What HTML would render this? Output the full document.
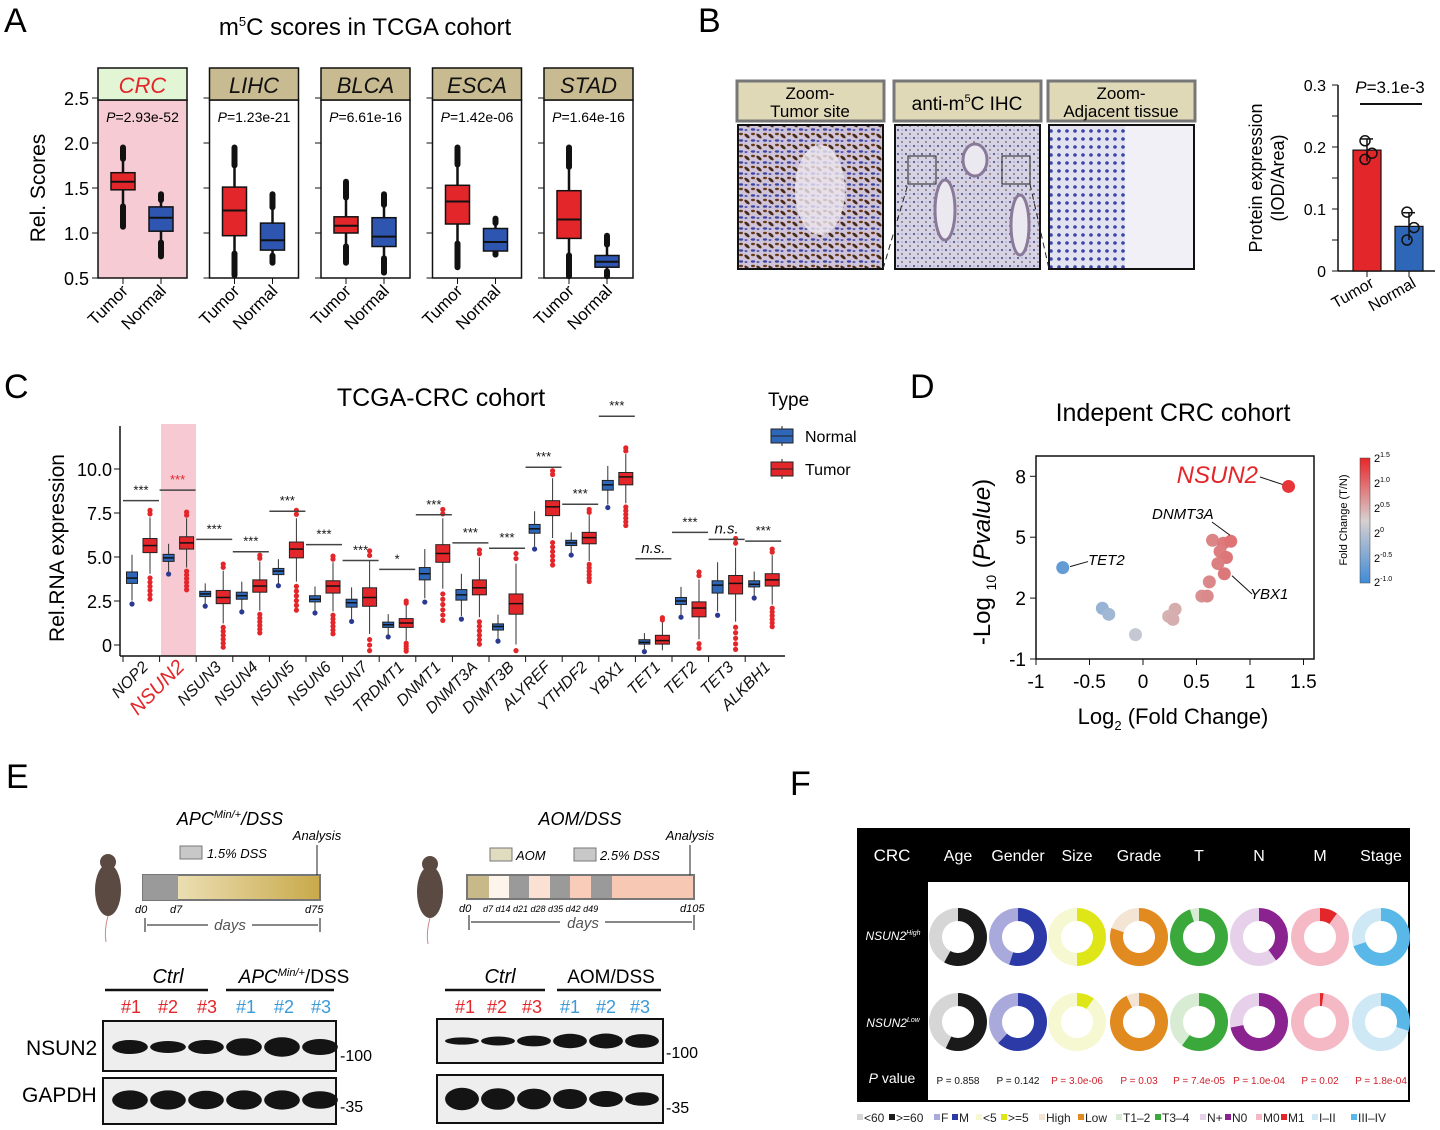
<!DOCTYPE html>
<html><head><meta charset="utf-8"><style>
html,body{margin:0;padding:0;background:#fff}
svg{display:block;font-family:"Liberation Sans","Noto Sans CJK SC",sans-serif}
</style></head><body>
<svg id="fig" width="1440" height="1130" viewBox="0 0 1440 1130" xmlns="http://www.w3.org/2000/svg">
<defs>
<linearGradient id="gApc" x1="0" x2="1"><stop offset="0" stop-color="#f3ebcc"/><stop offset="1" stop-color="#c9a94a"/></linearGradient>
<linearGradient id="gFc" x1="0" x2="0" y1="0" y2="1"><stop offset="0" stop-color="#e8262a"/><stop offset="0.5" stop-color="#d8d0d0"/><stop offset="1" stop-color="#3f8bd6"/></linearGradient>
<pattern id="tissueT" width="12" height="11" patternUnits="userSpaceOnUse"><rect width="12" height="11" fill="#cfc4d8"/><ellipse cx="3" cy="4" rx="3.2" ry="1.5" fill="#4a2a18" transform="rotate(40 3 4)"/><ellipse cx="9" cy="8.5" rx="2.2" ry="1.2" fill="#3d44a0"/><ellipse cx="9" cy="2" rx="2" ry="1.2" fill="#6a3a1a"/><ellipse cx="2" cy="9" rx="1.5" ry="1" fill="#5058b0"/></pattern>
<pattern id="tissueM" width="8" height="8" patternUnits="userSpaceOnUse"><rect width="8" height="8" fill="#d6d4e4"/><circle cx="2" cy="2" r="1.1" fill="#5a5a98"/><circle cx="6" cy="6" r="0.9" fill="#7a5a5a"/><circle cx="6" cy="2" r="0.6" fill="#8888b8"/></pattern>
<pattern id="tissueA" width="8" height="8" patternUnits="userSpaceOnUse"><rect width="8" height="8" fill="#e2e2f0"/><circle cx="3" cy="3" r="1.8" fill="#3b44a8"/></pattern>
</defs>

<text x="4" y="32" font-size="34">A</text>
<text x="698" y="32" font-size="34">B</text>
<text x="4" y="398" font-size="34">C</text>
<text x="910" y="398" font-size="34">D</text>
<text x="6" y="788" font-size="34">E</text>
<text x="790" y="795" font-size="34">F</text>

<text x="365" y="35" font-size="24" text-anchor="middle">m<tspan font-size="13" dy="-9">5</tspan><tspan dy="9">C scores in TCGA cohort</tspan></text>
<text x="45" y="188" font-size="21" text-anchor="middle" transform="rotate(-90 45 188)">Rel. Scores</text>
<g id="gA"></g>

<g>
<rect x="737" y="81" width="147" height="40" fill="#e0d9b8" stroke="#777" stroke-width="3"/>
<text x="810" y="99" font-size="17" text-anchor="middle">Zoom-</text><text x="810" y="117" font-size="17" text-anchor="middle">Tumor site</text>
<rect x="894" y="81" width="147" height="40" fill="#e0d9b8" stroke="#777" stroke-width="3"/>
<text x="967" y="110" font-size="19" text-anchor="middle">anti-m<tspan font-size="11" dy="-8">5</tspan><tspan dy="8">C IHC</tspan></text>
<rect x="1048" y="81" width="147" height="40" fill="#e0d9b8" stroke="#777" stroke-width="3"/>
<text x="1121" y="99" font-size="17" text-anchor="middle">Zoom-</text><text x="1121" y="117" font-size="17" text-anchor="middle">Adjacent tissue</text>
<rect x="738" y="125" width="145" height="144" fill="url(#tissueT)" stroke="#111" stroke-width="2"/>
<ellipse cx="820" cy="190" rx="25" ry="45" fill="#ece6ee" opacity="0.8"/>
<rect x="895" y="125" width="145" height="144" fill="url(#tissueM)" stroke="#111" stroke-width="2"/>
<ellipse cx="945" cy="210" rx="10" ry="30" fill="#ece8f0" stroke="#8a7a9a" stroke-width="3"/>
<ellipse cx="975" cy="160" rx="12" ry="16" fill="#ece8f0" stroke="#8a7a9a" stroke-width="3"/>
<ellipse cx="1020" cy="225" rx="9" ry="30" fill="#ece8f0" stroke="#8a7a9a" stroke-width="3"/>
<rect x="908" y="156" width="28" height="28" fill="none" stroke="#222" stroke-width="1"/>
<rect x="1002" y="156" width="28" height="28" fill="none" stroke="#222" stroke-width="1"/>
<rect x="1049" y="125" width="145" height="144" fill="url(#tissueA)" stroke="#111" stroke-width="2"/>
<rect x="1125" y="126" width="68" height="142" fill="#f0f0f6"/>
<line x1="883" y1="269" x2="908" y2="184" stroke="#222" stroke-dasharray="6 4"/>
<line x1="1030" y1="184" x2="1049" y2="269" stroke="#222" stroke-dasharray="6 4"/>
</g>
<text x="1262" y="178" font-size="18" text-anchor="middle" transform="rotate(-90 1262 178)">Protein expression</text>
<text x="1284" y="178" font-size="18" text-anchor="middle" transform="rotate(-90 1284 178)">(IOD/Area)</text>
<g id="gB"></g>

<text x="441" y="406" font-size="25" text-anchor="middle">TCGA-CRC cohort</text>
<text x="64" y="548" font-size="21" text-anchor="middle" transform="rotate(-90 64 548)">Rel.RNA expression</text>
<rect x="161" y="424" width="35" height="232" fill="#f6c9d3"/>
<g id="gC"></g>
<g>
<text x="768" y="406" font-size="19">Type</text>
<line x1="782" y1="426" x2="782" y2="446" stroke="#222"/><rect x="771" y="429" width="22" height="14" fill="#2e66b8" stroke="#222"/><line x1="771" y1="436" x2="793" y2="436" stroke="#222"/>
<text x="805" y="442" font-size="16">Normal</text>
<line x1="782" y1="459" x2="782" y2="479" stroke="#222"/><rect x="771" y="462" width="22" height="14" fill="#e3262a" stroke="#222"/><line x1="771" y1="469" x2="793" y2="469" stroke="#222"/>
<text x="805" y="475" font-size="16">Tumor</text>
</g>

<text x="1173" y="421" font-size="25" text-anchor="middle">Indepent CRC cohort</text>
<text x="990" y="562" font-size="24" text-anchor="middle" transform="rotate(-90 990 562)">-Log <tspan font-size="14" dy="6">10</tspan><tspan dy="-6"> (</tspan><tspan font-style="italic">Pvalue</tspan>)</text>
<text x="1173" y="724" font-size="22" text-anchor="middle">Log<tspan font-size="13" dy="6">2</tspan><tspan dy="-6"> (Fold Change)</tspan></text>
<g id="gD"></g>
<g>
<rect x="1360" y="458" width="10" height="125" fill="url(#gFc)" stroke="#444" stroke-width="0.5"/>
<text x="1347" y="520" font-size="11" text-anchor="middle" transform="rotate(-90 1347 520)">Fold Change (T/N)</text>
<text x="1374" y="462" font-size="11">2<tspan font-size="7" dy="-5">1.5</tspan></text>
<text x="1374" y="487" font-size="11">2<tspan font-size="7" dy="-5">1.0</tspan></text>
<text x="1374" y="512" font-size="11">2<tspan font-size="7" dy="-5">0.5</tspan></text>
<text x="1374" y="537" font-size="11">2<tspan font-size="7" dy="-5">0</tspan></text>
<text x="1374" y="562" font-size="11">2<tspan font-size="7" dy="-5">-0.5</tspan></text>
<text x="1374" y="586" font-size="11">2<tspan font-size="7" dy="-5">-1.0</tspan></text>
</g>

<g font-style="italic">
<text x="230" y="825" font-size="18" text-anchor="middle">APC<tspan font-size="11" dy="-7">Min/+</tspan><tspan dy="7">/DSS</tspan></text>
<text x="317" y="840" font-size="13" text-anchor="middle">Analysis</text>
<rect x="180" y="846" width="22" height="13" fill="#c8c8c8" stroke="#777"/><text x="207" y="858" font-size="13">1.5% DSS</text>
<g><ellipse cx="108" cy="890" rx="13" ry="26" fill="#5a4a42"/><circle cx="108" cy="862" r="8" fill="#5a4a42"/><path d="M108 916 Q104 930 106 942" stroke="#c88" fill="none"/></g>
<rect x="143" y="875" width="177" height="25" fill="url(#gApc)" stroke="#777" stroke-width="2"/>
<rect x="143" y="875" width="35" height="25" fill="#9a9a9a"/>
<line x1="317" y1="845" x2="317" y2="875" stroke="#222"/>
<text x="135" y="913" font-size="11">d0</text><text x="170" y="913" font-size="11">d7</text><text x="305" y="913" font-size="11">d75</text>
<line x1="145" y1="918" x2="145" y2="932" stroke="#111"/><line x1="320" y1="918" x2="320" y2="932" stroke="#111"/>
<line x1="147" y1="925" x2="208" y2="925" stroke="#111"/><line x1="252" y1="925" x2="318" y2="925" stroke="#111"/>
<text x="230" y="930" font-size="15" text-anchor="middle" fill="#555">days</text>

<text x="580" y="825" font-size="18" text-anchor="middle">AOM/DSS</text>
<text x="690" y="840" font-size="13" text-anchor="middle">Analysis</text>
<rect x="490" y="848" width="22" height="13" fill="#e0dcc0" stroke="#777"/><text x="516" y="860" font-size="13">AOM</text>
<rect x="574" y="848" width="22" height="13" fill="#c8c8c8" stroke="#777"/><text x="600" y="860" font-size="13">2.5% DSS</text>
<g><ellipse cx="430" cy="892" rx="13" ry="26" fill="#5a4a42"/><circle cx="430" cy="864" r="8" fill="#5a4a42"/><path d="M430 918 Q426 932 428 944" stroke="#c88" fill="none"/></g>
<rect x="467" y="875" width="227" height="24" fill="#f7c8b4" stroke="#777" stroke-width="2"/>
<rect x="468" y="876" width="21" height="22" fill="#c8b98a"/><rect x="489" y="876" width="20" height="22" fill="#fdf4ec"/>
<rect x="509" y="876" width="20" height="22" fill="#9a9a9a"/><rect x="529" y="876" width="21" height="22" fill="#fbe0d4"/>
<rect x="550" y="876" width="20" height="22" fill="#9a9a9a"/><rect x="570" y="876" width="21" height="22" fill="#f8ccb8"/>
<rect x="591" y="876" width="21" height="22" fill="#9a9a9a"/>
<line x1="690" y1="845" x2="690" y2="875" stroke="#222"/>
<text x="459" y="912" font-size="11">d0  </text><text x="483" y="912" font-size="9">d7  d14  d21  d28 d35 d42 d49</text><text x="680" y="912" font-size="11">d105</text>
<line x1="469" y1="915" x2="469" y2="930" stroke="#111"/><line x1="694" y1="915" x2="694" y2="930" stroke="#111"/>
<line x1="471" y1="922" x2="560" y2="922" stroke="#111"/><line x1="605" y1="922" x2="692" y2="922" stroke="#111"/>
<text x="583" y="928" font-size="15" text-anchor="middle" fill="#555">days</text>
</g>
<g>
<text x="168" y="983" font-size="20" font-style="italic" text-anchor="middle">Ctrl</text>
<text x="294" y="983" font-size="19" text-anchor="middle"><tspan font-style="italic">APC</tspan><tspan font-size="11" dy="-7" font-style="italic">Min/+</tspan><tspan dy="7">/DSS</tspan></text>
<line x1="105" y1="990" x2="208" y2="990" stroke="#111" stroke-width="2.5"/><line x1="226" y1="990" x2="334" y2="990" stroke="#111" stroke-width="2.5"/>
<text x="121" y="1013" font-size="18" fill="#e3262a">#1</text><text x="158" y="1013" font-size="18" fill="#e3262a">#2</text><text x="197" y="1013" font-size="18" fill="#e3262a">#3</text>
<text x="236" y="1013" font-size="18" fill="#3b9ad8">#1</text><text x="274" y="1013" font-size="18" fill="#3b9ad8">#2</text><text x="311" y="1013" font-size="18" fill="#3b9ad8">#3</text>
<text x="26" y="1055" font-size="21">NSUN2</text><text x="22" y="1102" font-size="21">GAPDH</text>
<rect x="103" y="1021" width="233" height="50" fill="#eee" stroke="#111" stroke-width="2"/>
<rect x="103" y="1078" width="233" height="46" fill="#eee" stroke="#111" stroke-width="2"/>
<text x="340" y="1061" font-size="16">-100</text><text x="340" y="1112" font-size="16">-35</text>
<text x="500" y="983" font-size="20" font-style="italic" text-anchor="middle">Ctrl</text>
<text x="611" y="983" font-size="19" text-anchor="middle">AOM/DSS</text>
<line x1="445" y1="990" x2="545" y2="990" stroke="#111" stroke-width="2.5"/><line x1="557" y1="990" x2="661" y2="990" stroke="#111" stroke-width="2.5"/>
<text x="455" y="1013" font-size="18" fill="#e3262a">#1</text><text x="487" y="1013" font-size="18" fill="#e3262a">#2</text><text x="522" y="1013" font-size="18" fill="#e3262a">#3</text>
<text x="560" y="1013" font-size="18" fill="#3b9ad8">#1</text><text x="596" y="1013" font-size="18" fill="#3b9ad8">#2</text><text x="630" y="1013" font-size="18" fill="#3b9ad8">#3</text>
<rect x="437" y="1019" width="226" height="44" fill="#eee" stroke="#111" stroke-width="2"/>
<rect x="437" y="1075" width="226" height="48" fill="#eee" stroke="#111" stroke-width="2"/>
<text x="666" y="1058" font-size="16">-100</text><text x="666" y="1113" font-size="16">-35</text>
<g id="gBands"></g>
</g>

<g>
<rect x="857" y="828" width="553" height="274" fill="#000"/>
<rect x="928" y="882" width="480" height="218" fill="#fff"/>
<text x="892" y="861" font-size="17" fill="#fff" text-anchor="middle">CRC</text>
<g id="gFhead" font-size="16" fill="#fff" text-anchor="middle"></g>
<text x="893" y="940" font-size="12" fill="#fff" text-anchor="middle" font-style="italic">NSUN2<tspan font-size="7" dy="-5">High</tspan></text>
<text x="893" y="1027" font-size="12" fill="#fff" text-anchor="middle" font-style="italic">NSUN2<tspan font-size="7" dy="-5">Low</tspan></text>
<text x="892" y="1083" font-size="14" fill="#fff" text-anchor="middle"><tspan font-style="italic">P</tspan> value</text>
<g id="gF"></g>
<g id="gFleg" font-size="12"></g>
</g>
</svg>
<script>
const NS='http://www.w3.org/2000/svg';
function mk(tag,attrs,parent){const e=document.createElementNS(NS,tag);for(const k in attrs)e.setAttribute(k,attrs[k]);parent.appendChild(e);return e;}

/* ---------- Panel A data ---------- */
const aCohorts=['CRC','LIHC','BLCA','ESCA','STAD'];
const aPvals=['2.93e-52','1.23e-21','6.61e-16','1.42e-06','1.64e-16'];
const aTumorMed=[1.57,1.25,1.08,1.35,1.15];
const aTumorQ1=[1.48,0.97,1.0,1.1,0.94];
const aTumorQ3=[1.67,1.51,1.18,1.53,1.47];
const aTumorLo=[1.07,0.53,0.67,0.62,0.52];
const aTumorHi=[1.95,1.95,1.57,1.95,1.95];
const aNormMed=[1.17,0.92,0.96,0.9,0.68];
const aNormQ1=[1.02,0.81,0.85,0.8,0.62];
const aNormQ3=[1.29,1.11,1.17,1.05,0.75];
const aNormLo=[0.74,0.67,0.56,0.76,0.52];
const aNormHi=[1.43,1.43,1.43,1.16,0.97];
const aTicks=[0.5,1.0,1.5,2.0,2.5];

const gA=document.getElementById('gA');
const ayA=v=>278-(v-0.5)*90;
aTicks.forEach(t=>{const l=mk('text',{x:89,y:ayA(t)+7,'font-size':18,'text-anchor':'end'},gA);l.textContent=t.toFixed(1);
 
 });
aCohorts.forEach((c,i)=>{
 const x0=98+i*111.5,w=89;
 const g=mk('g',{},gA);
 
 
 mk('rect',{x:x0,y:100,width:w,height:178,fill:i==0?'#f6cbd4':'#fff',stroke:'#111','stroke-width':1.5},g);
 mk('rect',{x:x0,y:68,width:w,height:32,fill:i==0?'#e2f5d4':'#c9bb91',stroke:'#111','stroke-width':1.5},g);
 const h=mk('text',{x:x0+w/2,y:93,'font-size':22,'font-style':'italic','text-anchor':'middle',fill:i==0?'#e3262a':'#111'},g);h.textContent=c;
 const p=mk('text',{x:x0+w/2,y:122,'font-size':14,'text-anchor':'middle'},g);p.innerHTML='<tspan font-style="italic">P</tspan>='+aPvals[i];
 aTicks.forEach(t=>mk('line',{x1:x0-6,x2:x0,y1:ayA(t),y2:ayA(t),stroke:'#111'},g));
 const sets=[[aTumorMed,aTumorQ1,aTumorQ3,aTumorLo,aTumorHi,'#e3262a',x0+25],[aNormMed,aNormQ1,aNormQ3,aNormLo,aNormHi,'#2e55b0',x0+63]];
 sets.forEach((s,j)=>{
  const cx=s[6],bw=24;
  const lo=s[3][i],hi=s[4][i],q1=s[1][i],q3=s[2][i];
  mk('line',{x1:cx,x2:cx,y1:ayA(hi),y2:ayA(lo),stroke:'#111','stroke-width':2.5},g);
  // outlier chains near whisker ends
  const wl=q1-(q1-lo)*0.45, wh=q3+(hi-q3)*0.55;
  mk('line',{x1:cx,x2:cx,y1:ayA(hi),y2:ayA(wh),stroke:'#111','stroke-width':6,'stroke-linecap':'round'},g);
  mk('line',{x1:cx,x2:cx,y1:ayA(wl),y2:ayA(lo),stroke:'#111','stroke-width':6,'stroke-linecap':'round'},g);
  mk('rect',{x:cx-bw/2,y:ayA(q3),width:bw,height:ayA(q1)-ayA(q3),fill:s[5],stroke:'#111','stroke-width':1.5},g);
  mk('line',{x1:cx-bw/2,x2:cx+bw/2,y1:ayA(s[0][i]),y2:ayA(s[0][i]),stroke:'#111','stroke-width':2},g);
  mk('line',{x1:cx,x2:cx,y1:278,y2:284,stroke:'#111'},g);
  const lbl=['Tumor','Normal'][j];
  const t=mk('text',{x:cx+6,y:292,'font-size':17,'text-anchor':'end',transform:`rotate(-45 ${cx+6} 292)`},g);t.textContent=lbl;
 });
});

/* ---------- Panel B data ---------- */
const bGroups=['Tumor','Normal'];
const bMeans=[0.195,0.072];
const bSD=[0.018,0.022];
const bPoints=[[0.21,0.19,0.18],[0.095,0.07,0.05]];
const bTicks=[0,0.1,0.2,0.3];
const gB=document.getElementById('gB');
const byB=v=>271-v*620;
mk('line',{x1:1338,x2:1338,y1:byB(0.3),y2:271,stroke:'#111','stroke-width':1.5},gB);
mk('line',{x1:1338,x2:1435,y1:271,y2:271,stroke:'#111','stroke-width':1.5},gB);
[0,0.05,0.1,0.15,0.2,0.25,0.3].forEach(t=>mk('line',{x1:1332,x2:1338,y1:byB(t),y2:byB(t),stroke:'#111'},gB));
bTicks.forEach(t=>{const l=mk('text',{x:1326,y:byB(t)+6,'font-size':16,'text-anchor':'end'},gB);l.textContent=t==0?'0':t.toString();
 
 });
bGroups.forEach((gname,i)=>{
 const cx=1367+i*42;
 const r=mk('rect',{x:cx-14,y:byB(bMeans[i]),width:28,height:271-byB(bMeans[i]),fill:i==0?'#e3262a':'#2e66b8',stroke:'#111','stroke-width':1.2},gB);
 
 
 mk('line',{x1:cx,x2:cx,y1:byB(bMeans[i]+bSD[i]),y2:byB(bMeans[i]-bSD[i]),stroke:'#111','stroke-width':1.5},gB);
 mk('line',{x1:cx-6,x2:cx+6,y1:byB(bMeans[i]+bSD[i]),y2:byB(bMeans[i]+bSD[i]),stroke:'#111','stroke-width':1.5},gB);
 bPoints[i].forEach((v,k)=>mk('circle',{cx:cx+(k==1?5:-2),cy:byB(v),r:5,fill:'none',stroke:'#111','stroke-width':1.5},gB));
 mk('line',{x1:cx,x2:cx,y1:271,y2:277,stroke:'#111'},gB);
 const t=mk('text',{x:cx+8,y:286,'font-size':16,'text-anchor':'end',transform:`rotate(-30 ${cx+8} 286)`},gB);t.textContent=gname;
});
mk('line',{x1:1360,x2:1422,y1:104,y2:104,stroke:'#111','stroke-width':2},gB);
const bp=mk('text',{x:1390,y:93,'font-size':17,'text-anchor':'middle'},gB);bp.innerHTML='<tspan font-style="italic">P</tspan>=3.1e-3';

/* ---------- Panel C data ---------- */
const cGenes=['NOP2','NSUN2','NSUN3','NSUN4','NSUN5','NSUN6','NSUN7','TRDMT1','DNMT1','DNMT3A','DNMT3B','ALYREF','YTHDF2','YBX1','TET1','TET2','TET3','ALKBH1'];
const cNormMed=[3.8,4.95,2.9,2.8,4.2,2.6,2.4,1.15,4.05,2.85,1.05,6.6,5.8,9.1,0.15,2.5,3.4,3.45];
const cNormQ1=[3.5,4.75,2.75,2.6,4.0,2.45,2.15,1.0,3.7,2.55,0.85,6.35,5.65,8.8,0.05,2.3,2.95,3.3];
const cNormQ3=[4.15,5.15,3.05,3.0,4.35,2.8,2.6,1.3,4.4,3.15,1.2,6.85,5.95,9.35,0.3,2.7,3.65,3.65];
const cTumMed=[5.65,5.8,2.7,3.35,5.45,3.35,2.7,1.25,5.2,3.25,2.35,7.85,6.1,9.55,0.25,2.1,3.5,3.7];
const cTumQ1=[5.25,5.45,2.35,3.0,4.95,2.95,2.2,1.0,4.7,2.85,1.75,7.35,5.75,9.1,0.05,1.6,2.9,3.35];
const cTumQ3=[6.05,6.15,3.1,3.7,5.85,3.65,3.25,1.5,5.7,3.7,2.9,8.2,6.4,9.8,0.55,2.45,3.95,4.05];
const cSig=['***','***','***','***','***','***','***','*','***','***','***','***','***','***','n.s.','***','n.s.','***'];
const cSigY=[8.2,8.8,6.0,5.3,7.6,5.7,4.8,4.3,7.4,5.8,5.5,10.1,8.0,13.0,4.9,6.4,6.0,5.9];
const cTicks=[0,2.5,5.0,7.5,10.0];
const gC=document.getElementById('gC');
const cy=v=>645-v*17.6;
const cx=i=>141+i*36.6;
mk('line',{x1:120,x2:120,y1:426,y2:656,stroke:'#111','stroke-width':1.5},gC);
mk('line',{x1:120,x2:785,y1:656,y2:656,stroke:'#111','stroke-width':1.5},gC);
cTicks.forEach(t=>{mk('line',{x1:114,x2:120,y1:cy(t),y2:cy(t),stroke:'#111'},gC);
 const l=mk('text',{x:112,y:cy(t)+7,'font-size':18,'text-anchor':'end'},gC);l.textContent=t==0?'0':t.toFixed(1);
 
 });
cGenes.forEach((gname,i)=>{
 const g=mk('g',{},gC);
 
 
 const boxes=[[cNormMed,cNormQ1,cNormQ3,'#2e66b8',cx(i)-9,11],[cTumMed,cTumQ1,cTumQ3,'#e3262a',cx(i)+9,14]];
 boxes.forEach((b,j)=>{
  const q1=b[1][i],q3=b[2][i],iqr=q3-q1,x=b[4],hw=b[5]/2;
  const lo=Math.max(q1-1.5*iqr,-0.3),hi=q3+1.5*iqr;
  mk('line',{x1:x,x2:x,y1:cy(hi),y2:cy(lo),stroke:'#333'},g);
  if(j==1){for(let k=1;k<=6;k++){const v=lo-k*0.3*iqr;if(v>-0.4)mk('circle',{cx:x,cy:cy(v),r:2.6,fill:'#e3262a'},g);}
   for(let k=1;k<=2;k++)mk('circle',{cx:x,cy:cy(hi+k*0.25*iqr),r:2.6,fill:'#e3262a'},g);}
  else{mk('circle',{cx:x,cy:cy(lo-0.3*iqr),r:2.6,fill:'#2a3a90'},g);}
  mk('rect',{x:x-hw,y:cy(q3),width:hw*2,height:cy(q1)-cy(q3),fill:b[3],stroke:'#222','stroke-width':1},g);
  mk('line',{x1:x-hw,x2:x+hw,y1:cy(b[0][i]),y2:cy(b[0][i]),stroke:'#111','stroke-width':1.5},g);
 });
 mk('line',{x1:cx(i)-18,x2:cx(i)+18,y1:cy(cSigY[i]),y2:cy(cSigY[i]),stroke:'#444','stroke-width':1.5},g);
 const s=mk('text',{x:cx(i),y:cy(cSigY[i])-6,'font-size':cSig[i]=='n.s.'?15:13,'text-anchor':'middle','font-style':cSig[i]=='n.s.'?'italic':'normal',fill:i==1?'#e3262a':'#111'},g);s.textContent=cSig[i];
 mk('line',{x1:cx(i)-18,x2:cx(i)-18,y1:656,y2:662,stroke:'#111'},g);
 const t=mk('text',{x:cx(i)+8,y:668,'font-size':i==1?20:16,'font-style':'italic','text-anchor':'end',fill:i==1?'#e3262a':'#111',transform:`rotate(-45 ${cx(i)+8} 668)`},g);t.textContent=gname;
});

/* ---------- Panel D data ---------- */
const dFC=[1.36,-0.75,0.65,0.75,0.82,0.72,0.78,0.7,0.76,0.62,0.55,0.6,0.3,0.24,0.28,-0.38,-0.32,-0.07];
const dLogP=[7.5,3.5,4.85,4.7,4.8,4.3,4.0,3.7,3.2,2.8,2.1,2.1,1.45,1.1,0.95,1.5,1.2,0.2];
const dTicksX=[-1,-0.5,0,0.5,1,1.5];
const dTicksY=[-1,2,5,8];
const gD=document.getElementById('gD');
const dx=v=>1036+(v+1)*107;
const dy=v=>659-(v+1)*20.3;
mk('rect',{x:1036,y:456,width:278,height:203,fill:'none',stroke:'#111','stroke-width':1.5},gD);
dTicksX.forEach(t=>{mk('line',{x1:dx(t),x2:dx(t),y1:659,y2:665,stroke:'#111'},gD);
 const l=mk('text',{x:dx(t),y:688,'font-size':19,'text-anchor':'middle'},gD);l.textContent=t;
 
 });
dTicksY.forEach(t=>{mk('line',{x1:1030,x2:1036,y1:dy(t),y2:dy(t),stroke:'#111'},gD);
 const l=mk('text',{x:1026,y:dy(t)+7,'font-size':19,'text-anchor':'end'},gD);l.textContent=t;
 
 });
function fcColor(v){const t=Math.max(-1,Math.min(1.5,v));
 if(t>=0){const f=t/1.5;return `rgb(${Math.round(210+(232-210)*f)},${Math.round(205-(205-38)*f)},${Math.round(205-(205-42)*f)})`;}
 const f=-t;return `rgb(${Math.round(205-(205-63)*f)},${Math.round(205-(205-139)*f)},${Math.round(210+(214-210)*f)})`;}
dFC.forEach((v,i)=>{const c=mk('circle',{cx:dx(v),cy:dy(dLogP[i]),r:6.5,fill:fcColor(v)},gD);
 
 });
const n2=mk('text',{x:1258,y:483,'font-size':24,'font-style':'italic','text-anchor':'end',fill:'#e3262a'},gD);n2.textContent='NSUN2';
mk('line',{x1:1260,x2:dx(dFC[0])-6,y1:477,y2:dy(dLogP[0])-2,stroke:'#111'},gD);
const d3=mk('text',{x:1152,y:519,'font-size':15,'font-style':'italic'},gD);d3.textContent='DNMT3A';
mk('line',{x1:1212,x2:1230,y1:522,y2:dy(4.85)-5,stroke:'#111'},gD);
const t2=mk('text',{x:1088,y:565,'font-size':15,'font-style':'italic'},gD);t2.textContent='TET2';
mk('line',{x1:1070,x2:1088,y1:dy(3.55),y2:dy(3.8),stroke:'#111'},gD);
const yb=mk('text',{x:1250,y:599,'font-size':15,'font-style':'italic'},gD);yb.textContent='YBX1';
mk('line',{x1:1232,x2:1252,y1:dy(3.1),y2:dy(2.2),stroke:'#111'},gD);

/* ---------- Panel E bands ---------- */
const eBandN1=[1.0,0.85,1.0,1.25,1.4,1.15];
const eBandG1=[1.2,1.2,1.15,1.2,1.2,1.1];
const eBandN2=[0.6,0.75,0.9,1.2,1.25,1.15];
const eBandG2=[1.4,1.35,1.3,1.25,1.0,0.85];
const gBands=document.getElementById('gBands');
function bands(arr,x0,step,yc,base){arr.forEach((s,i)=>{const e=mk('ellipse',{cx:x0+i*step,cy:yc,rx:step*0.47,ry:base*s,fill:'#141414'},gBands);
 
 });}
bands(eBandN1,130,38,1047,7);bands(eBandG1,130,38,1100,8);
bands(eBandN2,462,36,1041,6);bands(eBandG2,462,36,1099,8);

/* ---------- Panel F data ---------- */
const fVars=['Age','Gender','Size','Grade','T','N','M','Stage'];
const fHighFrac=[0.58,0.55,0.5,0.8,0.95,0.4,0.1,0.7];
const fLowFrac=[0.57,0.62,0.1,0.93,0.6,0.72,0.02,0.3];
const fPvals=['P = 0.858','P = 0.142','P = 3.0e-06','P = 0.03','P = 7.4e-05','P = 1.0e-04','P = 0.02','P = 1.8e-04'];
const fLight=['#d6d6d6','#a9a9dc','#f6f8d2','#f4e4d4','#d8ecd4','#e6d0ea','#f5b9c6','#cfe8f5'];
const fDark=['#1a1a1a','#2b3aa6','#dfe618','#e08a20','#3aa83a','#8a2290','#e3262a','#5ab8e8'];
const fLegend=['<60','>=60','F','M','<5','>=5','High','Low','T1\u20132','T3\u20134','N+','N0','M0','M1','I\u2013II','III\u2013IV'];
const fColX=[958,1018,1077,1139,1199,1259,1320,1381];
const fHead=document.getElementById('gFhead');
fVars.forEach((v,i)=>{const t=mk('text',{x:fColX[i],y:861},fHead);t.textContent=v;});
const gF=document.getElementById('gF');
function arc(cx,cy,r1,r2,a0,a1){const p=(r,a)=>[cx+r*Math.sin(a),cy-r*Math.cos(a)];const L=(a1-a0)>Math.PI?1:0;
 const [x1,y1]=p(r2,a0),[x2,y2]=p(r2,a1),[x3,y3]=p(r1,a1),[x4,y4]=p(r1,a0);
 return `M${x1} ${y1}A${r2} ${r2} 0 ${L} 1 ${x2} ${y2}L${x3} ${y3}A${r1} ${r1} 0 ${L} 0 ${x4} ${y4}Z`;}
function donut(cx,cyy,frac,i){const a=frac*2*Math.PI*0.9999;
 mk('path',{d:arc(cx,cyy,16,29,0,a),fill:fDark[i]},gF);
 mk('path',{d:arc(cx,cyy,16,29,a,2*Math.PI*0.9999),fill:fLight[i]},gF);}
fVars.forEach((v,i)=>{donut(fColX[i],937,fHighFrac[i],i);donut(fColX[i],1022,fLowFrac[i],i);
 const t=mk('text',{x:fColX[i],y:1084,'font-size':10,'text-anchor':'middle',fill:i<2?'#111':'#d0202a'},gF);t.textContent=fPvals[i];
 
 });
const gFleg=document.getElementById('gFleg');
let lx=857;
fLegend.forEach((s,i)=>{const col=(i%2==0)?fLight[i>>1]:fDark[i>>1];
 mk('rect',{x:lx,y:1114,width:6,height:6,fill:col},gFleg);
 const t=mk('text',{x:lx+7,y:1122,fill:'#222'},gFleg);t.textContent=s;
 
 
 lx+=9+s.length*7+(i%2==1?8:2);});
</script>
</body></html>
